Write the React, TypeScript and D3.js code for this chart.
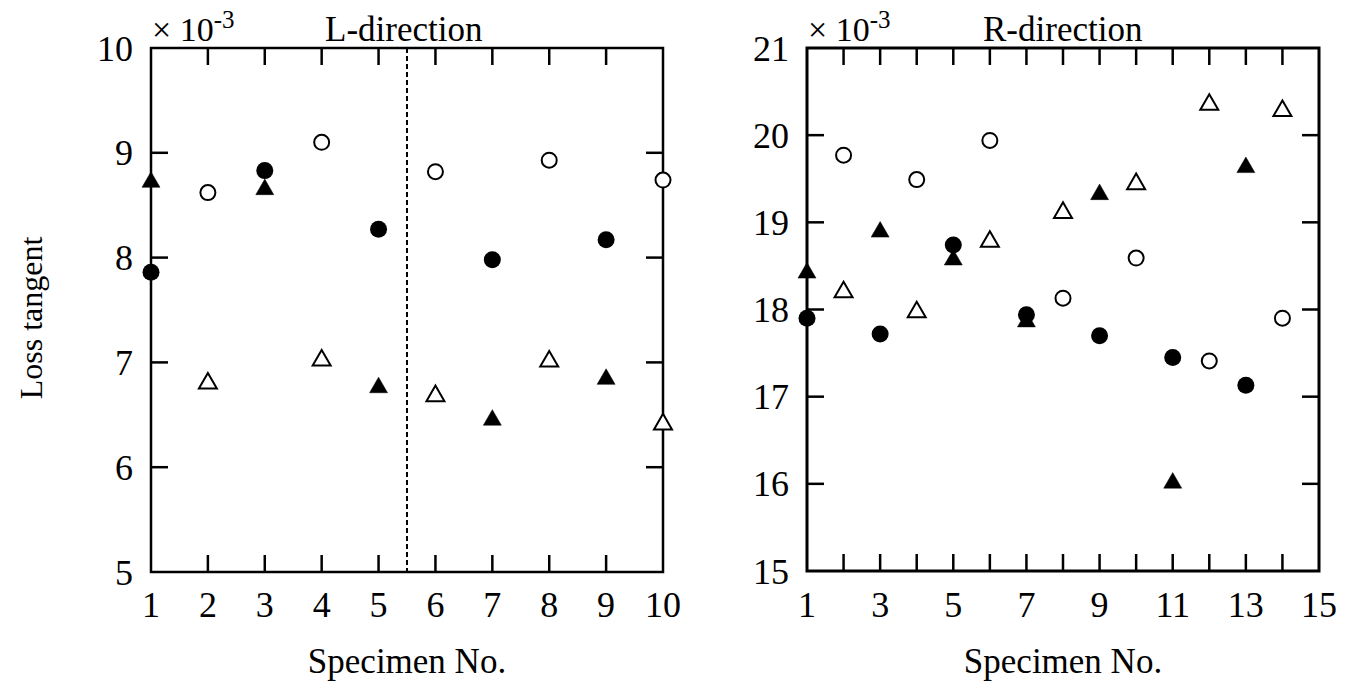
import React from "react";
import * as d3 from "d3";

// L-direction data
const lEvenSpecimens = [2, 4, 6, 8, 10];
const lOddSpecimens = [1, 3, 5, 7, 9];
const lOpenCircle = [8.62, 9.1, 8.82, 8.93, 8.74];
const lOpenTriangle = [6.8, 7.02, 6.68, 7.01, 6.41];
const lFilledCircle = [7.86, 8.83, 8.27, 7.98, 8.17];
const lFilledTriangle = [8.72, 8.65, 6.76, 6.45, 6.84];

// R-direction data
const rEvenSpecimens = [2, 4, 6, 8, 10, 12, 14];
const rOddSpecimens = [1, 3, 5, 7, 9, 11, 13];
const rOpenCircle = [19.77, 19.49, 19.94, 18.13, 18.59, 17.41, 17.9];
const rOpenTriangle = [18.2, 17.97, 18.78, 19.11, 19.44, 20.35, 20.28];
const rFilledCircle = [17.9, 17.72, 18.74, 17.94, 17.7, 17.45, 17.13];
const rFilledTriangle = [18.42, 18.89, 18.57, 17.86, 19.32, 16.01, 19.63];

const lXTicks = [1, 2, 3, 4, 5, 6, 7, 8, 9, 10];
const lYTicks = [5, 6, 7, 8, 9, 10];
const rXTicks = [1, 2, 3, 4, 5, 6, 7, 8, 9, 10, 11, 12, 13, 14, 15];
const rXLabels = [1, 3, 5, 7, 9, 11, 13, 15];
const rYTicks = [15, 16, 17, 18, 19, 20, 21];

const FONT = "'Liberation Serif', 'Times New Roman', serif";
const TICK = 17;
const triPath = d3.symbol().type(d3.symbolTriangle).size(140)()!;

type Series = { xs: number[]; ys: number[]; shape: "circle" | "triangle"; filled: boolean };

type PanelProps = {
  left: number;
  right: number;
  top: number;
  bottom: number;
  xDomain: [number, number];
  yDomain: [number, number];
  xTicks: number[];
  xLabels: number[];
  yTicks: number[];
  title: string;
  titleX: number;
  series: Series[];
  divider?: number;
  frameWidth: number;
};

const Panel = (p: PanelProps) => {
  const x = d3.scaleLinear().domain(p.xDomain).range([p.left, p.right]);
  const y = d3.scaleLinear().domain(p.yDomain).range([p.bottom, p.top]);
  const innerX = p.xTicks.filter(t => t !== p.xDomain[0] && t !== p.xDomain[1]);
  const innerY = p.yTicks.filter(t => t !== p.yDomain[0] && t !== p.yDomain[1]);

  return (
    <g>
      {/* ticks inside the frame, on all four sides */}
      {innerX.map(t => (
        <g key={"xt" + t} stroke="#000" strokeWidth={2.5}>
          <line x1={x(t)} x2={x(t)} y1={p.top} y2={p.top + TICK} />
          <line x1={x(t)} x2={x(t)} y1={p.bottom} y2={p.bottom - TICK} />
        </g>
      ))}
      {innerY.map(t => (
        <g key={"yt" + t} stroke="#000" strokeWidth={2.5}>
          <line x1={p.left} x2={p.left + TICK} y1={y(t)} y2={y(t)} />
          <line x1={p.right} x2={p.right - TICK} y1={y(t)} y2={y(t)} />
        </g>
      ))}
      {p.divider !== undefined && (
        <line
          x1={x(p.divider)}
          x2={x(p.divider)}
          y1={p.top}
          y2={p.bottom}
          stroke="#000"
          strokeWidth={2}
          strokeDasharray="5,3"
        />
      )}
      <rect
        x={p.left}
        y={p.top}
        width={p.right - p.left}
        height={p.bottom - p.top}
        fill="none"
        stroke="#000"
        strokeWidth={p.frameWidth}
      />
      {p.xLabels.map(t => (
        <text key={"xl" + t} x={x(t)} y={617} textAnchor="middle" fontSize={36} fontFamily={FONT}>
          {t}
        </text>
      ))}
      {p.yTicks.map(t => (
        <text
          key={"yl" + t}
          x={p.left - 18}
          y={y(t)}
          dy="0.35em"
          textAnchor="end"
          fontSize={36}
          fontFamily={FONT}
        >
          {t}
        </text>
      ))}
      <text
        x={(p.left + p.right) / 2}
        y={673}
        textAnchor="middle"
        fontSize={35}
        fontFamily={FONT}
      >
        Specimen No.
      </text>
      <text x={p.left + 1} y={41} fontSize={34} fontFamily={FONT}>
        × 10
        <tspan fontSize={25} dy={-13}>-3</tspan>
      </text>
      <text x={p.titleX} y={41} fontSize={35} fontFamily={FONT}>
        {p.title}
      </text>
      {p.series.map((s, si) =>
        s.xs.map((xv, i) =>
          s.shape === "circle" ? (
            <circle
              key={si + "-" + i}
              cx={x(xv)}
              cy={y(s.ys[i])}
              r={s.filled ? 8.5 : 7.5}
              fill={s.filled ? "#000" : "#fff"}
              stroke="#000"
              strokeWidth={s.filled ? 0 : 2}
            />
          ) : (
            <path
              key={si + "-" + i}
              d={triPath}
              transform={`translate(${x(xv)},${y(s.ys[i])})`}
              fill={s.filled ? "#000" : "#fff"}
              stroke="#000"
              strokeWidth={s.filled ? 0.5 : 2}
              strokeLinejoin="miter"
            />
          )
        )
      )}
    </g>
  );
};

const App = () => {
  const lSeries: Series[] = [
    { xs: lEvenSpecimens, ys: lOpenCircle, shape: "circle", filled: false },
    { xs: lEvenSpecimens, ys: lOpenTriangle, shape: "triangle", filled: false },
    { xs: lOddSpecimens, ys: lFilledTriangle, shape: "triangle", filled: true },
    { xs: lOddSpecimens, ys: lFilledCircle, shape: "circle", filled: true },
  ];
  const rSeries: Series[] = [
    { xs: rEvenSpecimens, ys: rOpenCircle, shape: "circle", filled: false },
    { xs: rEvenSpecimens, ys: rOpenTriangle, shape: "triangle", filled: false },
    { xs: rOddSpecimens, ys: rFilledTriangle, shape: "triangle", filled: true },
    { xs: rOddSpecimens, ys: rFilledCircle, shape: "circle", filled: true },
  ];

  return (
    <svg
      width={1357}
      height={686}
      style={{ position: "absolute", left: 0, top: 0, background: "#fff" }}
    >
      <rect width={1357} height={686} fill="#fff" />
      <text
        transform="translate(42,318) rotate(-90)"
        textAnchor="middle"
        fontSize={32}
        fontFamily={FONT}
      >
        Loss tangent
      </text>
      <Panel
        left={151}
        right={663}
        top={48}
        bottom={572}
        xDomain={[1, 10]}
        yDomain={[5, 10]}
        xTicks={lXTicks}
        xLabels={lXTicks}
        yTicks={lYTicks}
        title="L-direction"
        titleX={325}
        series={lSeries}
        divider={5.5}
        frameWidth={2.5}
      />
      <Panel
        left={807}
        right={1319}
        top={48}
        bottom={571}
        xDomain={[1, 15]}
        yDomain={[15, 21]}
        xTicks={rXTicks}
        xLabels={rXLabels}
        yTicks={rYTicks}
        title="R-direction"
        titleX={983}
        series={rSeries}
        frameWidth={3}
      />
    </svg>
  );
};

export default App;
